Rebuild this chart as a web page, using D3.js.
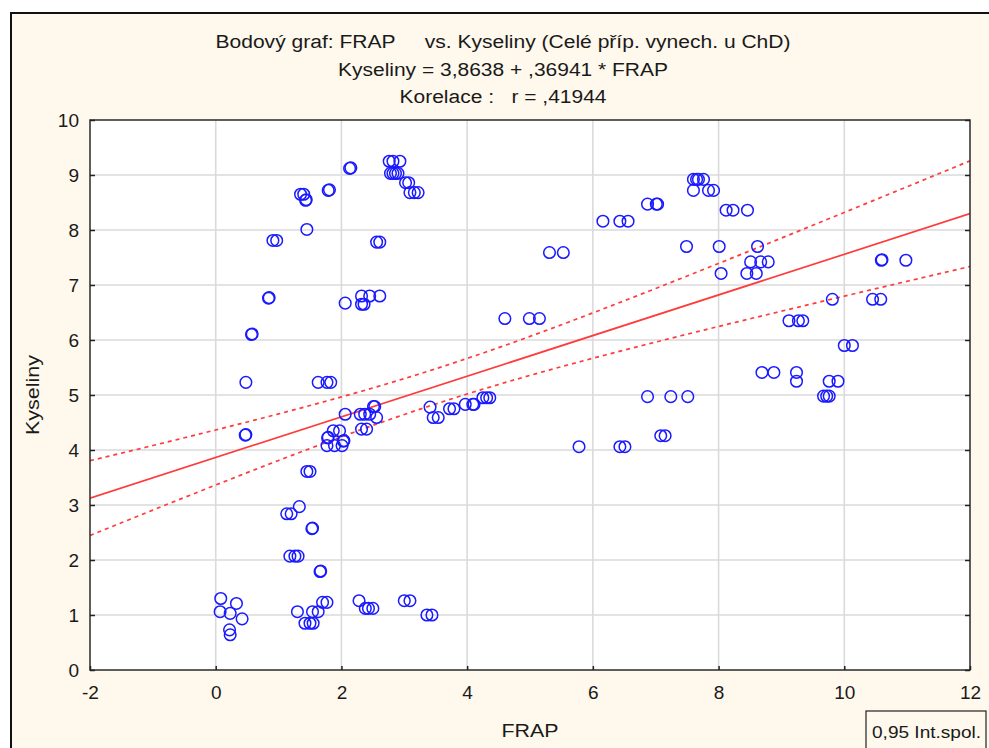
<!DOCTYPE html>
<html>
<head>
<meta charset="utf-8">
<script src="https://cdn.jsdelivr.net/npm/d3@7"></script>
<style>
  html, body { margin: 0; padding: 0; background: #ffffff; }
  svg { display: block; }
  text { font-family: "Liberation Sans", Arial, sans-serif; fill: #1a1a1a; }
</style>
</head>
<body>
<svg id="chart" width="989" height="748"></svg>
<script>
// FRAP (x) and Kyseliny (y) observations
const frap = [
  2.13, 2.15, 2.76, 2.82, 2.93, 2.78, 2.82, 2.86, 2.90, 3.02, 3.07, 3.09, 3.16, 3.22,
  1.35, 1.40, 1.43, 1.44, 1.79, 1.81, 1.45, 0.91, 0.97, 2.56, 2.61, 0.84, 0.85,
  2.32, 2.45, 2.61, 2.06, 2.32, 2.36, 0.57, 0.58,
  0.48, 1.63, 1.77, 1.83, 0.47, 0.48, 2.06, 2.30, 2.37, 2.45, 2.51, 2.53, 2.56,
  1.87, 1.97, 1.78, 1.79, 1.77, 1.89, 2.01, 2.03, 2.04, 2.32, 2.40,
  3.41, 3.46, 3.54, 3.72, 3.79, 1.45, 1.50, 1.33, 1.13, 1.20, 1.53, 1.54,
  1.18, 1.26, 1.31, 1.66, 1.67, 0.08, 0.33, 0.07, 0.23, 0.42, 0.22, 0.23,
  1.30, 1.54, 1.63, 1.42, 1.50, 1.55, 1.70, 1.77, 2.28, 2.38, 2.43, 2.50,
  3.00, 3.09, 3.36, 3.44,
  4.60, 4.99, 5.15, 5.31, 5.53, 6.16, 6.43, 6.56, 6.87, 7.01, 7.03,
  3.97, 4.09, 4.11, 4.25, 4.31, 4.36, 5.78, 6.43, 6.51, 6.87, 7.24, 7.51, 7.08, 7.15,
  7.60, 7.65, 7.68, 7.76, 7.60, 7.84, 7.92, 8.12, 8.23, 8.46,
  7.49, 8.01, 8.62, 8.51, 8.67, 8.79, 8.04, 8.45, 8.60,
  10.59, 10.60, 10.98, 9.81, 10.45, 10.58, 9.12, 9.27, 9.34, 10.00, 10.13,
  8.69, 8.88, 9.24, 9.24, 9.76, 9.90, 9.67, 9.72, 9.76
];
const kyseliny = [
  9.12, 9.13, 9.25, 9.25, 9.25, 9.03, 9.03, 9.03, 9.03, 8.86, 8.86, 8.68, 8.68, 8.68,
  8.65, 8.65, 8.54, 8.55, 8.72, 8.73, 8.01, 7.81, 7.81, 7.78, 7.78, 6.76, 6.77,
  6.80, 6.80, 6.80, 6.67, 6.65, 6.65, 6.10, 6.11,
  5.23, 5.23, 5.23, 5.23, 4.27, 4.28, 4.65, 4.65, 4.65, 4.65, 4.79, 4.79, 4.59,
  4.35, 4.35, 4.22, 4.23, 4.08, 4.08, 4.08, 4.16, 4.17, 4.38, 4.38,
  4.78, 4.59, 4.59, 4.75, 4.75, 3.61, 3.61, 2.97, 2.84, 2.84, 2.57, 2.58,
  2.07, 2.07, 2.07, 1.79, 1.80, 1.30, 1.21, 1.06, 1.03, 0.93, 0.73, 0.64,
  1.06, 1.06, 1.06, 0.85, 0.85, 0.85, 1.23, 1.23, 1.26, 1.12, 1.12, 1.12,
  1.26, 1.26, 1.00, 1.00,
  6.39, 6.39, 6.39, 7.59, 7.59, 8.16, 8.16, 8.16, 8.47, 8.47, 8.47,
  4.83, 4.83, 4.83, 4.95, 4.95, 4.95, 4.06, 4.06, 4.06, 4.97, 4.97, 4.97, 4.26, 4.26,
  8.92, 8.92, 8.92, 8.92, 8.72, 8.72, 8.72, 8.36, 8.36, 8.36,
  7.70, 7.70, 7.70, 7.42, 7.42, 7.42, 7.21, 7.21, 7.21,
  7.45, 7.46, 7.45, 6.74, 6.74, 6.74, 6.35, 6.35, 6.35, 5.90, 5.90,
  5.41, 5.41, 5.41, 5.25, 5.25, 5.25, 4.98, 4.98, 4.98
];

// Fitted line: Kyseliny = 3,8638 + ,36941 * FRAP
const intercept = 3.8638;
const slope = 0.36941;
// 95 % confidence band of the mean: half-width = sqrt(v0 + v1 * (x - xMean)^2)
const bandXMean = 3.58;
const bandV0 = 0.1024;
const bandV1 = 0.01156;

const xTicks = [-2, 0, 2, 4, 6, 8, 10, 12];
const yTicks = [0, 1, 2, 3, 4, 5, 6, 7, 8, 9, 10];
const titleLines = [
  "Bodový graf: FRAP\u00a0\u00a0\u00a0\u00a0 vs. Kyseliny (Celé příp. vynech. u ChD)",
  "Kyseliny = 3,8638 + ,36941 * FRAP",
  "Korelace :\u00a0\u00a0 r = ,41944"
];
const titleWidths = [575, 330, 207];
// plain hyphen for negative numbers
const fmt = d => String(d);

const svg = d3.select("#chart");
const plot = { left: 90, right: 970, top: 120, bottom: 670 };

const x = d3.scaleLinear().domain([-2, 12]).range([plot.left, plot.right]);
const y = d3.scaleLinear().domain([0, 10]).range([plot.bottom, plot.top]);

// Outer frame with cream background
svg.append("rect").attr("x", 11).attr("y", 13).attr("width", 1000).attr("height", 760)
  .attr("fill", "#fff8ec").attr("stroke", "#111").attr("stroke-width", 2);

// Plot area
svg.append("rect")
  .attr("x", plot.left).attr("y", plot.top)
  .attr("width", plot.right - plot.left).attr("height", plot.bottom - plot.top)
  .attr("fill", "#ffffff");

// Grid
const grid = svg.append("g").attr("stroke", "#dadada").attr("stroke-width", 1.6);
grid.selectAll("line.v").data(xTicks.slice(1, -1)).join("line")
  .attr("x1", d => x(d)).attr("x2", d => x(d))
  .attr("y1", plot.top).attr("y2", plot.bottom);
grid.selectAll("line.h").data(yTicks.slice(1, -1)).join("line")
  .attr("x1", plot.left).attr("x2", plot.right)
  .attr("y1", d => y(d)).attr("y2", d => y(d));

// Clip for lines
svg.append("clipPath").attr("id", "plotClip").append("rect")
  .attr("x", plot.left).attr("y", plot.top)
  .attr("width", plot.right - plot.left).attr("height", plot.bottom - plot.top);

const xs = d3.range(-2, 12.0001, 0.1);
const fit = v => intercept + slope * v;
const half = v => Math.sqrt(bandV0 + bandV1 * (v - bandXMean) ** 2);
const line = d3.line().x(d => x(d[0])).y(d => y(d[1]));

const lines = svg.append("g").attr("clip-path", "url(#plotClip)")
  .attr("fill", "none").attr("stroke", "#ff3b3b");
lines.append("path").attr("d", line(xs.map(v => [v, fit(v) + half(v)])))
  .attr("stroke-width", 1.7).attr("stroke-dasharray", "4,4");
lines.append("path").attr("d", line(xs.map(v => [v, fit(v) - half(v)])))
  .attr("stroke-width", 1.7).attr("stroke-dasharray", "4,4");
lines.append("path").attr("d", line([[-2, fit(-2)], [12, fit(12)]]))
  .attr("stroke-width", 1.7);

// Points
svg.append("g").selectAll("circle").data(frap.map((f, i) => [f, kyseliny[i]])).join("circle")
  .attr("cx", d => x(d[0])).attr("cy", d => y(d[1])).attr("r", 5.8)
  .attr("fill", "none").attr("stroke", "#1a1aff").attr("stroke-width", 1.5);

// Plot border
svg.append("rect")
  .attr("x", plot.left).attr("y", plot.top)
  .attr("width", plot.right - plot.left).attr("height", plot.bottom - plot.top)
  .attr("fill", "none").attr("stroke", "#2a2a2a").attr("stroke-width", 1.5);

// Axes
const xAxis = svg.append("g").attr("transform", `translate(0,${plot.bottom})`)
  .call(d3.axisBottom(x).tickValues(xTicks).tickFormat(fmt).tickSizeInner(-4).tickSizeOuter(0).tickPadding(16));
const yAxis = svg.append("g").attr("transform", `translate(${plot.left},0)`)
  .call(d3.axisLeft(y).tickValues(yTicks).tickFormat(fmt).tickSizeInner(-5).tickSizeOuter(0).tickPadding(11));
const yAxisR = svg.append("g").attr("transform", `translate(${plot.right},0)`)
  .call(d3.axisRight(y).tickValues(yTicks).tickFormat("").tickSizeInner(-5).tickSizeOuter(0));
[xAxis, yAxis, yAxisR].forEach(g => {
  g.select(".domain").remove();
  g.selectAll(".tick line").attr("stroke", "#222").attr("stroke-width", 1.5);
  g.selectAll(".tick text").attr("font-size", 19).attr("fill", "#1a1a1a")
    .style("font-family", "'Liberation Sans', Arial, sans-serif");
});

// Titles
svg.append("g").selectAll("text").data(titleLines).join("text")
  .attr("x", 503).attr("y", (d, i) => 48 + i * 27.5)
  .attr("text-anchor", "middle").attr("font-size", 18)
  .attr("textLength", (d, i) => titleWidths[i]).attr("lengthAdjust", "spacingAndGlyphs")
  .text(d => d);

// Axis titles
svg.append("text").attr("x", 530).attr("y", 737).attr("text-anchor", "middle")
  .attr("font-size", 18).attr("textLength", 57).attr("lengthAdjust", "spacingAndGlyphs")
  .text("FRAP");
svg.append("text").attr("transform", "translate(39,395) rotate(-90)")
  .attr("text-anchor", "middle").attr("font-size", 18)
  .attr("textLength", 80).attr("lengthAdjust", "spacingAndGlyphs").text("Kyseliny");

// Legend
svg.append("rect").attr("x", 866).attr("y", 711).attr("width", 120).attr("height", 45)
  .attr("fill", "#fff8ec").attr("stroke", "#222").attr("stroke-width", 1.2);
svg.append("text").attr("x", 872).attr("y", 738).attr("font-size", 17)
  .attr("textLength", 109).attr("lengthAdjust", "spacingAndGlyphs").text("0,95 Int.spol.");
</script>
</body>
</html>
